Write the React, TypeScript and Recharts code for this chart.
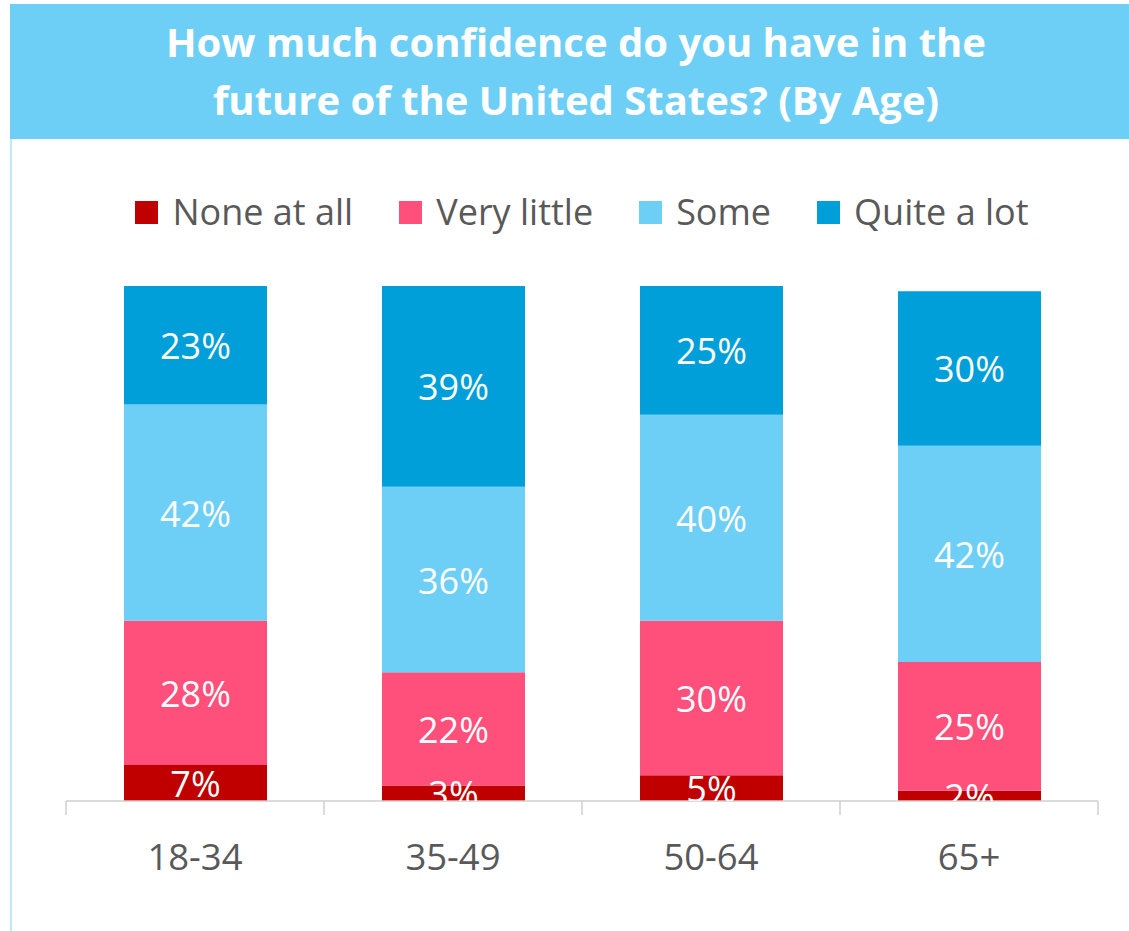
import React from 'react';
import { BarChart, Bar, XAxis, YAxis, Legend, LabelList } from 'recharts';

const ageGroups = ['18-34', '35-49', '50-64', '65+'];
const noneAtAll = [7, 3, 5, 2];
const veryLittle = [28, 22, 30, 25];
const some = [42, 36, 40, 42];
const quiteALot = [23, 39, 25, 30];

const seriesNames = ['None at all', 'Very little', 'Some', 'Quite a lot'];
const seriesKeys = ['none', 'little', 'some', 'lot'];
const seriesColors = ['#C00000', '#FF4F7B', '#6DCFF6', '#009FDA'];

const data = ageGroups.map((age, i) => ({
  age,
  none: noneAtAll[i],
  little: veryLittle[i],
  some: some[i],
  lot: quiteALot[i],
}));

const FONT = '"Open Sans", sans-serif';
const BAND = 258;

function SegmentLabel(props: any) {
  const { x, y, width, height, value, index, id } = props;
  const clipId = `lbl-${id}-${index}`;
  return (
    <g>
      <defs>
        <clipPath id={clipId}>
          <rect x={x - 40} y={y - 200} width={width + 80} height={height + 200} />
        </clipPath>
      </defs>
      <text
        x={x + width / 2}
        y={y + height / 2}
        dy={14}
        textAnchor="middle"
        fill="#fff"
        fontSize={36}
        fontFamily={FONT}
        clipPath={`url(#${clipId})`}
      >
        {value}%
      </text>
    </g>
  );
}

function AgeTick(props: any) {
  const { x, y, payload, index } = props;
  return (
    <g>
      <line x1={x - BAND / 2} y1={y} x2={x - BAND / 2} y2={y + 14} stroke="#cfcfcf" strokeWidth={1.5} />
      {index === ageGroups.length - 1 && (
        <line x1={x + BAND / 2} y1={y} x2={x + BAND / 2} y2={y + 14} stroke="#cfcfcf" strokeWidth={1.5} />
      )}
      <text x={x} y={y + 69} textAnchor="middle" fill="#595959" fontSize={36.5} fontFamily={FONT}>
        {payload.value}
      </text>
    </g>
  );
}

function LegendRow() {
  return (
    <div style={{ display: 'flex', justifyContent: 'center', alignItems: 'center', fontFamily: FONT }}>
      {seriesNames.map((name, i) => (
        <div key={name} style={{ display: 'flex', alignItems: 'center', marginRight: i < seriesNames.length - 1 ? 46 : 0 }}>
          <div style={{ width: 23, height: 23, background: seriesColors[i], marginRight: 14 }} />
          <span style={{ fontSize: 36, color: '#595959', lineHeight: '46px' }}>{name}</span>
        </div>
      ))}
    </div>
  );
}

export default function App() {
  return (
    <div style={{ position: 'absolute', left: 0, top: 0, width: 1129, height: 931, background: '#fff' }}>
      <div
        style={{
          position: 'absolute',
          left: 10,
          top: 4,
          width: 1119,
          height: 135,
          background: '#6DCFF6',
          color: '#fff',
          fontFamily: FONT,
          fontWeight: 700,
          fontSize: 40,
          lineHeight: '58px',
          textAlign: 'center',
          paddingTop: 9,
          paddingLeft: 13,
          boxSizing: 'border-box',
        }}
      >
        How much confidence do you have in the
        <br />
        future of the United States? (By Age)
      </div>
      <div style={{ position: 'absolute', left: 10, top: 139, width: 2, height: 792, background: '#BDE9FA' }} />
      <div style={{ position: 'absolute', left: 0, top: 0 }}>
        <BarChart
          width={1129}
          height={931}
          data={data}
          margin={{ top: 286, right: 31, bottom: 50, left: 66 }}
          barSize={143}
        >
          <XAxis
            dataKey="age"
            height={80}
            axisLine={{ stroke: '#cfcfcf', strokeWidth: 1.5 }}
            tickLine={false}
            tickSize={0}
            tickMargin={0}
            tick={<AgeTick />}
            interval={0}
          />
          <YAxis hide domain={[0, 100]} allowDataOverflow />
          <Legend
            verticalAlign="middle"
            align="center"
            layout="horizontal"
            wrapperStyle={{ top: 189, left: 66, width: 1032 }}
            content={() => <LegendRow />}
          />
          {seriesKeys.map((key, i) => (
            <Bar
              key={key}
              dataKey={key}
              name={seriesNames[i]}
              stackId="a"
              fill={seriesColors[i]}
              isAnimationActive={false}
            >
              <LabelList dataKey={key} content={<SegmentLabel id={key} />} />
            </Bar>
          ))}
        </BarChart>
      </div>
    </div>
  );
}
